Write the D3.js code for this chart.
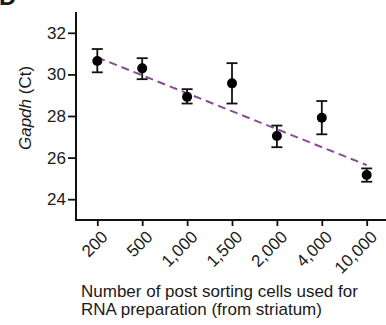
<!DOCTYPE html>
<html lang="en">
<head>
  <meta charset="UTF-8"/>
  <title>Gapdh Ct vs cell number</title>
  <script src="https://d3js.org/d3.v7.min.js"></script>
  <style>
    body { margin: 0; background: #fff; }
    text { font-family: "Liberation Sans", Arial, sans-serif; fill: #1a1a1a; }
  </style>
</head>
<body>
<script>

 // values
 var cells   = ["200", "500", "1,000", "1,500", "2,000", "4,000", "10,000"];
 var meanCt  = [30.64, 30.29, 28.92, 29.57, 27.04, 27.92, 25.16];
 var upperCt = [31.22, 30.78, 29.29, 30.54, 27.54, 28.72, 25.48];
 var lowerCt = [30.10, 29.77, 28.60, 28.60, 26.50, 27.12, 24.84];
 var fitLine = [30.82, 25.64];   // trend at first and last category
 var yTicks  = [24, 26, 28, 30, 32];

 var w = 386;
 var h = 325;

 var svg = d3.select("body")
             .append("svg")
             .attr("width", w)
             .attr("height", h);

 var x = d3.scalePoint()
           .domain(cells)
           .range([97.3, 366.7]);

 var y = d3.scaleLinear()
           .domain([23, 33])
           .range([220, 12]);

 var axisX = 76;

 // y axis
 var yAxis = svg.append("g")
                .attr("transform", "translate(" + axisX + ",0)")
                .call(d3.axisLeft(y).tickValues(yTicks).tickSize(8).tickPadding(2));
 yAxis.select(".domain").remove();
 yAxis.selectAll(".tick line").attr("stroke", "#111").attr("stroke-width", 1.8);
 yAxis.selectAll(".tick text").style("font-size", "17px");
 yAxis.append("line")
      .attr("x1", 0).attr("x2", 0)
      .attr("y1", y(33)).attr("y2", y(23) + 1)
      .attr("stroke", "#111").attr("stroke-width", 2);

 // x axis
 var xAxis = svg.append("g")
                .attr("transform", "translate(0," + y(23) + ")")
                .call(d3.axisBottom(x).tickSize(6).tickSizeOuter(0));
 xAxis.select(".domain").remove();
 xAxis.append("line")
      .attr("x1", axisX - 1).attr("x2", w)
      .attr("y1", 0).attr("y2", 0)
      .attr("stroke", "#111").attr("stroke-width", 2);
 xAxis.selectAll(".tick line").attr("stroke", "#111").attr("stroke-width", 1.8);
 xAxis.selectAll(".tick text")
      .style("font-size", "17px")
      .attr("text-anchor", "end")
      .attr("dy", null)
      .attr("y", 0)
      .attr("transform", "translate(11,18) rotate(-45)");

 // dashed trend
 svg.append("line")
    .attr("x1", x(cells[0])).attr("y1", y(fitLine[0]))
    .attr("x2", x(cells[cells.length - 1])).attr("y2", y(fitLine[1]))
    .attr("stroke", "#8b4a9c")
    .attr("stroke-width", 2)
    .attr("stroke-dasharray", "8,5");

 // error bars
 var err = svg.append("g").attr("stroke", "#111").attr("stroke-width", 1.8);
 cells.forEach(function(c, i) {
   var cx = x(c);
   err.append("line").attr("x1", cx).attr("x2", cx)
      .attr("y1", y(upperCt[i])).attr("y2", y(lowerCt[i]));
   err.append("line").attr("x1", cx - 5.5).attr("x2", cx + 5.5)
      .attr("y1", y(upperCt[i])).attr("y2", y(upperCt[i]));
   err.append("line").attr("x1", cx - 5.5).attr("x2", cx + 5.5)
      .attr("y1", y(lowerCt[i])).attr("y2", y(lowerCt[i]));
 });

 svg.selectAll("circle")
    .data(meanCt)
    .enter()
    .append("circle")
    .attr("cx", function(d, i) { return x(cells[i]); })
    .attr("cy", function(d) { return y(d); })
    .attr("r", 5)
    .style("fill", "#000");

 // y title
 var yt = svg.append("text")
             .attr("transform", "translate(31,108) rotate(-90)")
             .attr("text-anchor", "middle")
             .style("font-size", "17px");
 yt.append("tspan").style("font-style", "italic").text("Gapdh");
 yt.append("tspan").text(" (Ct)");

 // x title
 svg.append("text")
    .attr("x", 81).attr("y", 297)
    .style("font-size", "17px")
    .text("Number of post sorting cells used for");
 svg.append("text")
    .attr("x", 81).attr("y", 315)
    .style("font-size", "17px")
    .text("RNA preparation (from striatum)");

 // panel letter, cropped at the top edge as in the figure
 svg.append("text")
    .attr("x", -1).attr("y", 5)
    .style("font-size", "24px")
    .style("font-weight", "bold")
    .text("D");

</script>
</body>
</html>
